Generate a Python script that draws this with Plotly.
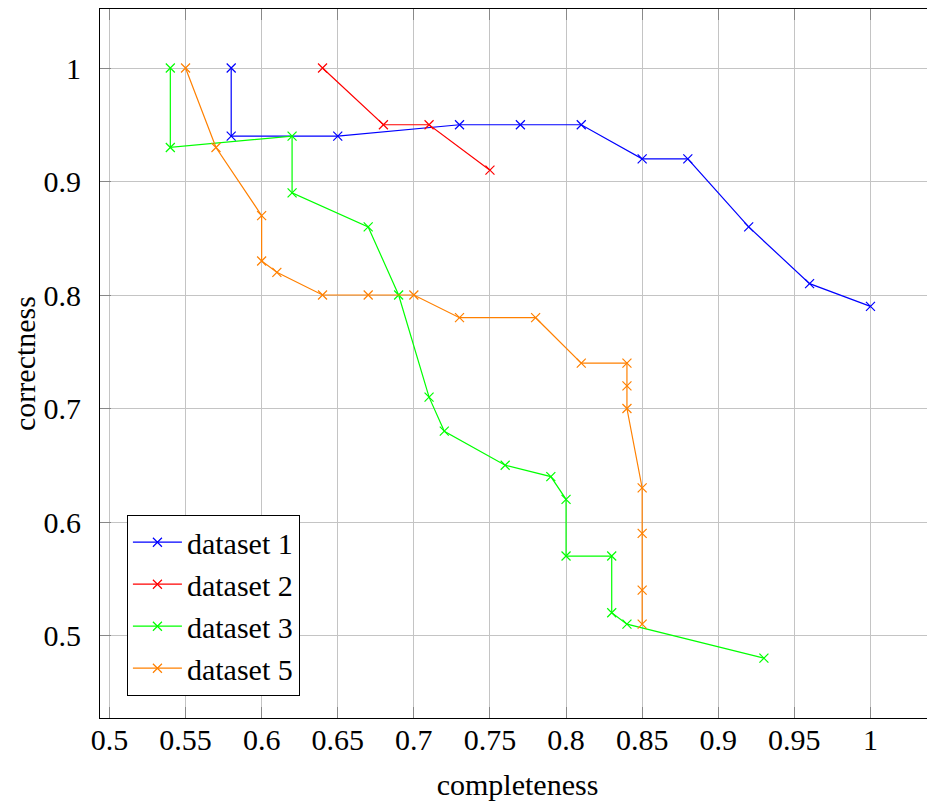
import plotly.graph_objects as go

# ---- data ----
names = ["dataset 1", "dataset 2", "dataset 3", "dataset 5"]
colors = ["#0000ff", "#ff0000", "#00ff00", "#ff8000"]

d1_x = [0.58, 0.58, 0.65, 0.73, 0.77, 0.81, 0.85, 0.88, 0.92, 0.96, 1.00]
d1_y = [1.00, 0.94, 0.94, 0.95, 0.95, 0.95, 0.92, 0.92, 0.86, 0.81, 0.79]

d2_x = [0.64, 0.68, 0.71, 0.75]
d2_y = [1.00, 0.95, 0.95, 0.91]

d3_x = [0.54, 0.54, 0.62, 0.62, 0.67, 0.69, 0.71, 0.72, 0.76, 0.79, 0.80, 0.80, 0.83, 0.83, 0.84, 0.93]
d3_y = [1.00, 0.93, 0.94, 0.89, 0.86, 0.80, 0.71, 0.68, 0.65, 0.64, 0.62, 0.57, 0.57, 0.52, 0.51, 0.48]

d5_x = [0.55, 0.57, 0.60, 0.60, 0.61, 0.64, 0.67, 0.70, 0.73, 0.78, 0.81, 0.84, 0.84, 0.84, 0.85, 0.85, 0.85, 0.85]
d5_y = [1.00, 0.93, 0.87, 0.83, 0.82, 0.80, 0.80, 0.80, 0.78, 0.78, 0.74, 0.74, 0.72, 0.70, 0.63, 0.59, 0.54, 0.51]

x_tickvals = [0.5, 0.55, 0.6, 0.65, 0.7, 0.75, 0.8, 0.85, 0.9, 0.95, 1.0]
x_ticktext = ["0.5", "0.55", "0.6", "0.65", "0.7", "0.75", "0.8", "0.85", "0.9", "0.95", "1"]
y_tickvals = [0.5, 0.6, 0.7, 0.8, 0.9, 1.0]
y_ticktext = ["0.5", "0.6", "0.7", "0.8", "0.9", "1"]

series = [(d1_x, d1_y), (d2_x, d2_y), (d3_x, d3_y), (d5_x, d5_y)]

FONT = "Liberation Serif"
FS = 30

fig = go.Figure()
for (xs, ys), name, col in zip(series, names, colors):
    fig.add_trace(go.Scatter(
        x=xs, y=ys, name=name, mode="lines+markers",
        line=dict(color=col, width=1.2),
        marker=dict(symbol="x-thin-open", size=9, color=col,
                    line=dict(color=col, width=1.2)),
    ))

# page body has an 8px default margin, so the figure is 8px smaller
fig.update_layout(
    width=927, height=793,
    margin=dict(l=92, r=0, t=1, b=83),
    paper_bgcolor="white", plot_bgcolor="white",
    font=dict(family=FONT, size=FS, color="black"),
    showlegend=True,
    legend=dict(
        x=0.032, y=0.031, xanchor="left", yanchor="bottom",
        bgcolor="white", bordercolor="black", borderwidth=1.2,
        font=dict(family=FONT, size=FS, color="black"),
        tracegroupgap=0, itemwidth=49,
    ),
    xaxis=dict(
        range=[0.4938, 1.0424],
        tickvals=x_tickvals, ticktext=x_ticktext,
        showgrid=True, gridcolor="#c4c4c4", gridwidth=1,
        zeroline=False,
        showline=True, linecolor="black", linewidth=1.2, mirror="allticks",
        ticks="inside", ticklen=11, tickwidth=1.2, tickcolor="#888888",
        ticklabelstandoff=-5,
        tickfont=dict(family=FONT, size=FS, color="black"),
        title=dict(text="completeness", standoff=20,
                   font=dict(family=FONT, size=FS, color="black")),
    ),
    yaxis=dict(
        range=[0.4273, 1.052],
        tickvals=y_tickvals, ticktext=y_ticktext,
        showgrid=True, gridcolor="#c4c4c4", gridwidth=1,
        zeroline=False,
        showline=True, linecolor="black", linewidth=1.2, mirror=False,
        ticks="inside", ticklen=11, tickwidth=1.2, tickcolor="#888888",
        ticklabelstandoff=12,
        tickfont=dict(family=FONT, size=FS, color="black"),
        title=dict(text="correctness", standoff=0,
                   font=dict(family=FONT, size=FS, color="black")),
    ),
)

fig.write_html("out.html")
